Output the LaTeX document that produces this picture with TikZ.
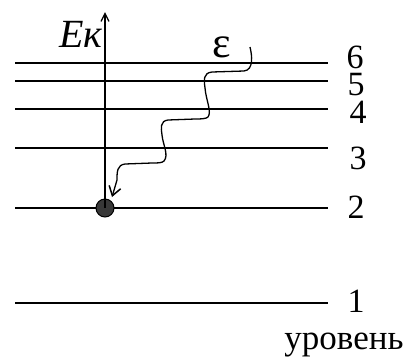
\documentclass[tikz,border=0pt]{standalone}
\usepackage{fontspec}
\setmainfont{Liberation Serif}
\usetikzlibrary{arrows.meta}
\begin{document}
\begin{tikzpicture}[x=1pt,y=-1pt,
  level/.style={line width=2pt},
  lvlnum/.style={font=\fontsize{34}{34}\selectfont, inner sep=0pt},
  photon/.style={line width=1.3pt, -{Straight Barb[length=9pt,width=12pt,line width=1.5pt]}},
  axis/.style={line width=2pt, -{Straight Barb[length=8pt,width=8pt,line width=1.3pt]}},
  dotstyle/.style={circle, draw=black, fill=black!78, line width=1pt, minimum size=18pt, inner sep=0pt}]
\useasboundingbox (0,0) rectangle (408,360);
% level end points
\foreach \n/\y in {6/63,5/81,4/109,3/148,2/208,1/303}{
  \coordinate (l\n a) at (15,\y);
  \coordinate (l\n b) at (328,\y);
}
\foreach \n in {6,5,4,3,2,1}{ \draw[level] (l\n a) -- (l\n b); }
% level numbers
\node[lvlnum] (n6) at (355,57) {6};
\node[lvlnum] (n5) at (356,85) {5};
\node[lvlnum] (n4) at (358,112) {4};
\node[lvlnum] (n3) at (358,158) {3};
\node[lvlnum] (n2) at (356,207) {2};
\node[lvlnum] (n1) at (356,301) {1};
\node[inner sep=0pt, font=\fontsize{35}{35}\selectfont] (lab) at (344,345) {уровень};
% axis
\node[dotstyle] (dot) at (105,208) {};
\coordinate (top) at (105,12);
\draw[axis] (dot.center) -- (top);
\node[inner sep=0pt, font=\fontsize{40}{40}\selectfont\itshape] (ek) at (81,34) {Eк};
% photon
\node[inner sep=0pt, font=\fontsize{44}{44}\selectfont] (eps) at (222,47) {ε};
\coordinate (w0) at (250,47);
\coordinate (wend) at (112,197);
\draw[photon] (w0) .. controls (252,55) and (254,70) .. (244,71)
  -- (212,72) .. controls (203,73) and (204,80) .. (205,88)
  .. controls (206,100) and (212,112) .. (208,117)
  .. controls (206,119) and (200,119) .. (195,119)
  -- (168,120) .. controls (160,121) and (161,128) .. (162,135)
  .. controls (163,145) and (169,155) .. (164,161)
  .. controls (162,163) and (158,163) .. (152,163)
  -- (125,164) .. controls (117,165) and (117,172) .. (117,180)
  -- (wend);
\end{tikzpicture}
\end{document}
